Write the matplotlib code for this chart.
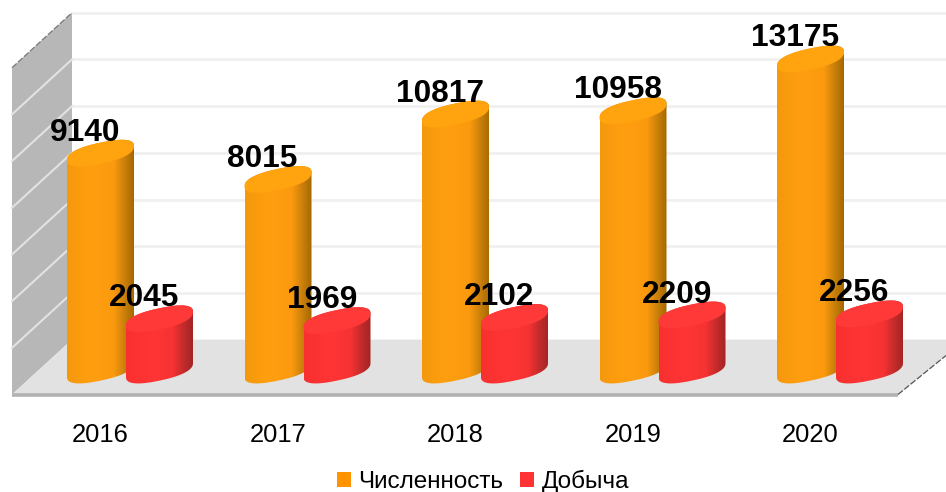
import numpy as np
import matplotlib
matplotlib.use("Agg")
import matplotlib.pyplot as plt
from matplotlib.patches import PathPatch, Polygon, Patch
from matplotlib.path import Path
from matplotlib.colors import LinearSegmentedColormap

plt.rcParams['font.family'] = ['Liberation Sans', 'DejaVu Sans']

years = ['2016', '2017', '2018', '2019', '2020']
population = [9140, 8015, 10817, 10958, 13175]
harvest = [2045, 1969, 2102, 2209, 2256]
grid_values = [0, 2000, 4000, 6000, 8000, 10000, 12000, 14000]
series_names = ['Численность', 'Добыча']

W, H = 946, 492
PX_X = 177.5      # px per category
PX_Y = 0.02335    # px per unit
X0_PX, Y0_PX = 100.5, 366.6

fig = plt.figure(figsize=(W / 100, H / 100), dpi=100, facecolor='white')
ax = fig.add_axes([0, 0, 1, 1])
xlim = (-X0_PX / PX_X, (W - X0_PX) / PX_X)
ylim = ((Y0_PX - H) / PX_Y, Y0_PX / PX_Y)
ax.axis('off')


def dx(px):
    return px / PX_X


def dy(px):
    return px / PX_Y


def fx(px):
    return (px - X0_PX) / PX_X


def fy(py):
    return (Y0_PX - py) / PX_Y


# depth of the 3D frame, relative to the value scale
BACK = 27.0
WALL_L, WALL_R = 72, 12
FRONT_Y, FLOOR_R = 394.5, 898
DEPTH_RISE = 55.0

top_v = grid_values[-1]
# back wall gridlines
for v in grid_values[1:]:
    ax.plot([fx(WALL_L), xlim[1]], [v + dy(BACK), v + dy(BACK)], color='#F0F0F0', lw=2.0, zorder=1,
            solid_capstyle='butt')

# left wall
ax.add_patch(Polygon([(fx(WALL_L), top_v + dy(BACK)), (fx(WALL_R), top_v + dy(BACK - DEPTH_RISE)),
                      (fx(WALL_R), fy(FRONT_Y)), (fx(WALL_L), dy(BACK))],
                     closed=True, fc='#B7B7B7', ec='none', zorder=2))
for v in grid_values[1:-1]:
    ax.plot([fx(WALL_R), fx(WALL_L)], [v + dy(BACK - DEPTH_RISE), v + dy(BACK)], color='#E2E2E2', lw=1.5, zorder=3)
ax.plot([fx(WALL_R), fx(WALL_L)], [top_v + dy(BACK - DEPTH_RISE), top_v + dy(BACK)],
        color='#777777', lw=0.9, ls=(0, (5, 1.5)), zorder=3)

# floor
ax.add_patch(Polygon([(fx(WALL_R), fy(FRONT_Y)), (fx(FLOOR_R), fy(FRONT_Y)), (xlim[1], fy(FRONT_Y - 39)),
                      (xlim[1], dy(BACK)), (fx(WALL_L), dy(BACK))],
                     closed=True, fc='#E2E2E2', ec='none', zorder=2))
ax.plot([fx(WALL_R), fx(FLOOR_R)], [fy(FRONT_Y + 0.5)] * 2, color='#B2B2B2', lw=2.6, zorder=3,
        solid_capstyle='butt')
ax.plot([fx(FLOOR_R), xlim[1]], [fy(FRONT_Y), fy(FRONT_Y - 39)], color='#555555', lw=0.9,
        ls=(0, (5, 1.5)), zorder=3)

R, SHEAR, B = 33.5, 7.0, 10.6
BASE = -3.4   # px of the base ellipse centre below zero
POW = 0.82


def ellipse(cx, cv, t):
    c = np.sign(np.cos(t)) * np.abs(np.cos(t)) ** POW
    s = np.sign(np.sin(t)) * np.abs(np.sin(t)) ** POW
    return cx + dx(R * c), cv + dy(SHEAR * c + B * s)


def cylinder(cx, value, face, cmap, z):
    lower = np.linspace(np.pi, 2 * np.pi, 80)
    upper = np.linspace(0, np.pi, 80)
    xb, yb = ellipse(cx, dy(BASE), lower)
    xt, yt = ellipse(cx, value, upper)
    pts = np.r_[np.c_[xb, yb], np.c_[xt, yt], [[xb[0], yb[0]]]]
    codes = [Path.MOVETO] + [Path.LINETO] * (len(pts) - 2) + [Path.CLOSEPOLY]
    body = PathPatch(Path(pts, codes), fc='none', ec='none', zorder=z)
    ax.add_patch(body)
    im = ax.imshow(np.linspace(0, 1, 256)[None, :], cmap=cmap, aspect='auto', zorder=z,
                   extent=(cx - dx(R), cx + dx(R), -dy(30), value + dy(30)))
    im.set_clip_path(body)
    t = np.linspace(0, 2 * np.pi, 160)
    xe, ye = ellipse(cx, value, t)
    ax.add_patch(Polygon(np.c_[xe, ye], closed=True, fc=face, ec='none', zorder=z + 0.1))


orange = LinearSegmentedColormap.from_list('o', [(0, '#F5980C'), (0.35, '#FF9F10'), (0.70, '#FB9A0E'),
                                                 (0.88, '#C47D0A'), (1, '#A56800')])
red = LinearSegmentedColormap.from_list('r', [(0, '#F8302F'), (0.4, '#FF3535'), (0.70, '#F63232'),
                                              (0.88, '#BE2A2A'), (1, '#A52424')])
RED_OFF = 59 / PX_X
for i, (p, h) in enumerate(zip(population, harvest)):
    cylinder(i, p, '#FFA30F', orange, 5 + i * 2)
    cylinder(i + RED_OFF, h, '#FF3838', red, 6 + i * 2)
    ax.text(i + dx(-15.5), p + dy(20.5), f'{p}', ha='center', va='center', fontsize=22.8,
            fontweight='bold', color='black', zorder=30)
    ax.text(i + RED_OFF + dx(-15), h + dy(20.5), f'{h}', ha='center', va='center', fontsize=22.8,
            fontweight='bold', color='black', zorder=30)
    ax.text(i, fy(435), years[i], ha='center', va='center', fontsize=18.4, color='black', zorder=30)

ax.set_xlim(*xlim)
ax.set_ylim(*ylim)

handles = [Patch(fc='#FF9400', ec='none', label=series_names[0]),
           Patch(fc='#FF3333', ec='none', label=series_names[1])]
ax.legend(handles=handles, loc='center', bbox_to_anchor=(483 / W, 1 - 481.5 / H), ncol=2, frameon=False,
          fontsize=17.5, handlelength=0.58, handleheight=0.58, handletextpad=0.3, columnspacing=0.7,
          borderpad=0, borderaxespad=0)

fig.savefig('out.png', dpi=100, facecolor='white')
